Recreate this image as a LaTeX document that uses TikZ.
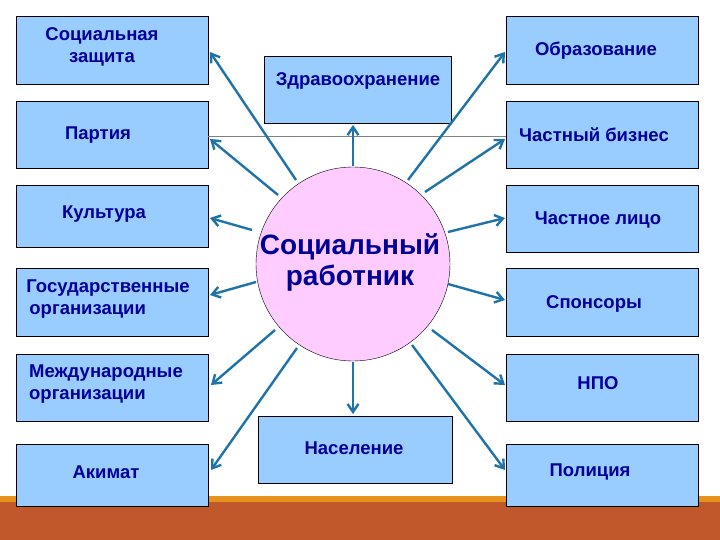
\documentclass[tikz,border=0pt]{standalone}
\usepackage{fontspec}
\setmainfont{Liberation Sans}
\begin{document}
\begin{tikzpicture}[x=1pt,y=-1pt,
 bx/.style={draw=black,fill=boxblue,line width=0.8pt,anchor=north west},
 tx/.style={font=\bfseries\fontsize{18.5}{22}\selectfont,text=txtblue,align=left},
 ar/.style={draw=arblue,line width=2.4pt,-{Straight Barb[length=8pt,width=11pt]}}]
\usetikzlibrary{arrows.meta}
\definecolor{boxblue}{HTML}{99CCFF}
\definecolor{txtblue}{HTML}{000099}
\definecolor{arblue}{HTML}{1F73A8}
\definecolor{pinkc}{HTML}{FFCCFF}
\definecolor{barbrown}{HTML}{C0582B}
\definecolor{barorange}{HTML}{E8921E}
\useasboundingbox (0,0) rectangle (720,540);
\fill[white] (0,0) rectangle (720,540);
\fill[barorange] (0,496) rectangle (720,503);
\fill[barbrown] (0,502) rectangle (720,540);
% boxes
\node[bx,minimum width=192pt,minimum height=68pt] (sz) at (16,16) {};
\node[bx,minimum width=192pt,minimum height=67pt] (pa) at (16,101) {};
\node[bx,minimum width=192pt,minimum height=62pt] (ku) at (16,185) {};
\node[bx,minimum width=192pt,minimum height=68pt] (go) at (16,268) {};
\node[bx,minimum width=192pt,minimum height=67pt] (mo) at (16,354) {};
\node[bx,minimum width=192pt,minimum height=62pt] (ak) at (16,444) {};
\node[bx,minimum width=192pt,minimum height=68pt] (ob) at (506,16) {};
\node[bx,minimum width=192pt,minimum height=67pt] (cb) at (506,101) {};
\node[bx,minimum width=192pt,minimum height=67pt] (cl) at (506,185) {};
\node[bx,minimum width=192pt,minimum height=68pt] (sp) at (506,268) {};
\node[bx,minimum width=192pt,minimum height=67pt] (np) at (506,354) {};
\node[bx,minimum width=192pt,minimum height=62pt] (po) at (506,444) {};
\node[bx,minimum width=187pt,minimum height=67pt] (zd) at (264,56) {};
\node[bx,minimum width=194pt,minimum height=67pt] (na) at (258,416) {};
\draw[gray,line width=0.5pt] (208,136) -- (506,136);
\node[circle,draw=black,fill=pinkc,minimum size=194pt,inner sep=0pt] (c) at (353,264) {};
% texts
\node[tx,align=center] (t1) at (102,47) {Социальная\\защита};
\node[tx] (t2) at (98,135) {Партия};
\node[tx] (t3) at (104,214) {Культура};
\node[tx] (t4) at (108,299) {Государственные\\\,организации};
\node[tx] (t5) at (106,384) {Международные\\организации};
\node[tx] (t6) at (106,472) {Акимат};
\node[tx] (t7) at (596,51) {Образование};
\node[tx] (t8) at (594,135) {Частный бизнес};
\node[tx] (t9) at (598,220) {Частное лицо};
\node[tx] (t10) at (594,304) {Спонсоры};
\node[tx] (t11) at (598,383) {НПО};
\node[tx] (t12) at (590,472) {Полиция};
\node[tx] (t13) at (358,81) {Здравоохранение};
\node[tx] (t14) at (354,448) {Население};
\node[font=\bfseries\fontsize{28}{31}\selectfont,text=txtblue,align=center] (t15) at (350,262) {Социальный\\работник};
% arrows
\coordinate (s1) at (296,180); \coordinate (e1) at (210,52);
\coordinate (s2) at (278,195); \coordinate (e2) at (210,139);
\coordinate (s3) at (252,230); \coordinate (e3) at (210,218);
\coordinate (s4) at (256,282); \coordinate (e4) at (210,295);
\coordinate (s5) at (275,330); \coordinate (e5) at (211,385);
\coordinate (s6) at (297,348); \coordinate (e6) at (211,470);
\coordinate (s7) at (408,180); \coordinate (e7) at (505,52);
\coordinate (s8) at (425,192); \coordinate (e8) at (505,139);
\coordinate (s9) at (448,232); \coordinate (e9) at (505,218);
\coordinate (s10) at (448,284); \coordinate (e10) at (505,300);
\coordinate (s11) at (432,330); \coordinate (e11) at (505,385);
\coordinate (s12) at (412,345); \coordinate (e12) at (505,470);
\coordinate (s13) at (353,166); \coordinate (e13) at (353,125);
\coordinate (s14) at (353,362); \coordinate (e14) at (353,414);
\foreach \i in {1,...,14} \draw[ar] (s\i) -- (e\i);
\end{tikzpicture}
\end{document}
